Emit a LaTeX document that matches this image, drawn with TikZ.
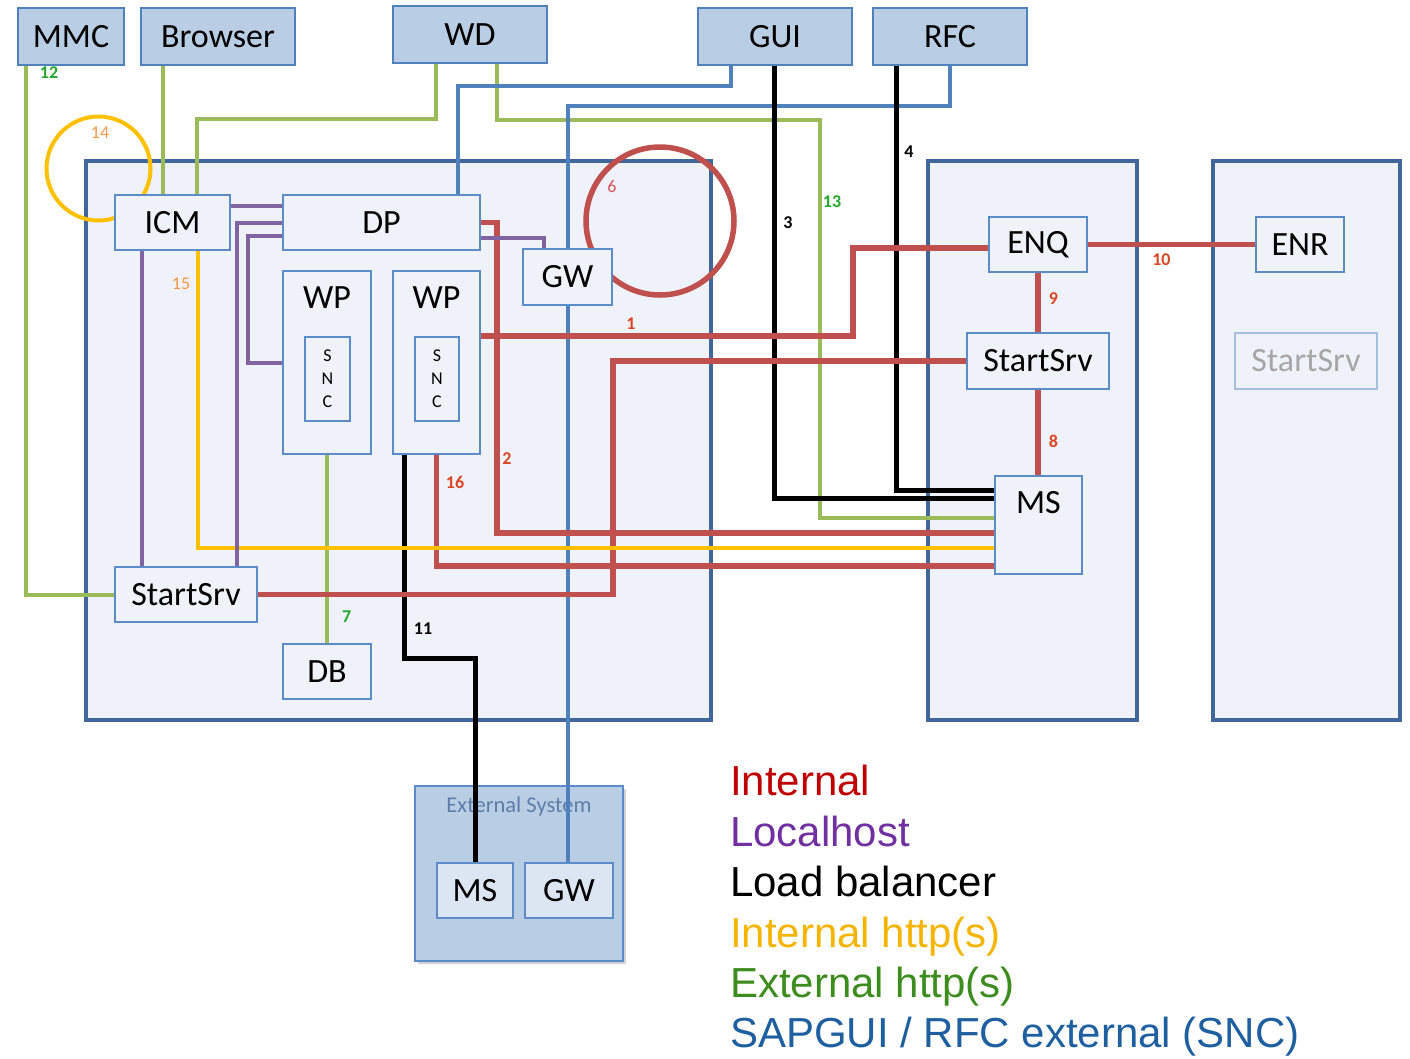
\documentclass[tikz,border=0pt]{standalone}
\usepackage{fontspec}
\setmainfont{Carlito}
\newfontfamily\legendfont{Liberation Sans}
\usepackage{tikz}
\usetikzlibrary{positioning,shadows}
\definecolor{frameblue}{HTML}{41679A}
\definecolor{boxline}{HTML}{5B8BC8}
\definecolor{panefill}{HTML}{EFF3F9}
\definecolor{topfill}{HTML}{B9CDE5}
\definecolor{extfill}{HTML}{DCE6F2}
\definecolor{wred}{HTML}{C0504D}
\definecolor{wgrn}{HTML}{9BBB59}
\definecolor{wprp}{HTML}{8064A2}
\definecolor{wblu}{HTML}{4F81BD}
\definecolor{wylw}{HTML}{FFC000}
\definecolor{tagred}{HTML}{DC4522}
\definecolor{tagpink}{HTML}{D45555}
\definecolor{taggrn}{HTML}{22A82A}
\definecolor{tagorg}{HTML}{F79646}
\definecolor{lgred}{HTML}{C00000}
\definecolor{lgprp}{HTML}{7030A0}
\definecolor{lgylw}{HTML}{F5B400}
\definecolor{lggrn}{HTML}{3C8C1E}
\definecolor{lgblu}{HTML}{1E5FA0}
\newcommand\procfont{\fontsize{34}{40}\selectfont}
\newcommand\tagfont{\fontsize{18}{20}\selectfont\bfseries}
\newcommand\sncfont{\fontsize{18}{23}\selectfont}
\pgfdeclarelayer{back}
\pgfdeclarelayer{wires}
\pgfsetlayers{back,wires,main}
\tikzset{
  pane/.style     = {draw=frameblue, line width=4pt, fill=panefill},
  client/.style   = {draw=wblu, line width=1.8pt, fill=topfill, font=\procfont,
                     inner sep=0pt, minimum width=154pt, minimum height=57pt},
  proc/.style     = {draw=boxline, line width=1.5pt, fill=panefill, font=\procfont,
                     inner sep=0pt, minimum height=55pt},
  extsys/.style   = {draw=boxline, line width=1.5pt, fill=topfill,
                     drop shadow={opacity=0.35,shadow xshift=3pt,shadow yshift=-3pt}},
  exttitle/.style = {anchor=center, yshift=-21pt, inner sep=0pt,
                     font=\fontsize{22.5}{26}\selectfont, text=frameblue!85},
  intitle/.style  = {anchor=center, yshift=-27pt, inner sep=0pt, font=\procfont},
  tag/.style      = {font=\tagfont, inner sep=0pt},
  lighttag/.style = {font=\fontsize{18}{20}\selectfont, inner sep=0pt},
  legend/.style   = {anchor=base west, inner sep=0pt,
                     font=\legendfont\fontsize{42}{50}\selectfont},
  rline/.style    = {draw=wred, line width=5.5pt},
  gline/.style    = {draw=wgrn, line width=4pt},
  pline/.style    = {draw=wprp, line width=4pt},
  bline/.style    = {draw=wblu, line width=4pt},
  kline/.style    = {draw=black, line width=5pt},
  yline/.style    = {draw=wylw, line width=4pt},
}
\begin{document}
\begin{tikzpicture}[x=1pt,y=-1pt]
\useasboundingbox (0,0) rectangle (1410,1058);

% hosts and the external system
\begin{pgfonlayer}{back}
\node[pane, minimum width=625pt, minimum height=559pt] (app) at (398.5,440.5) {};
\node[pane, minimum width=209pt, minimum height=559pt] (cs) at (1032.5,440.5) {};
\node[pane, minimum width=187pt, minimum height=559pt] (ers) at (1306.5,440.5) {};
\node[extsys, minimum width=208pt, minimum height=175pt,
      label={[exttitle]north:External System}] (ext) at (519,873.5) {};
\end{pgfonlayer}

% clients
\node[client, minimum width=106pt] (mmc) at (71,36.5) {MMC};
\node[client] (browser) at (218,36.5) {Browser};
\node[client] (wd) at (470,34.5) {WD};
\node[client] (gui) at (775,36.5) {GUI};
\node[client] (rfc) at (950,36.5) {RFC};

% application server
\node[proc, minimum width=115pt] (icm) at (172.5,222.5) {ICM};
\node[proc, minimum width=197pt] (dp) at (381.5,222.5) {DP};
\node[proc, minimum width=88pt, minimum height=183pt,
      label={[intitle]north:WP}] (wp1) at (327,362.5) {};
\node[proc, minimum width=87pt, minimum height=183pt,
      label={[intitle]north:WP}] (wp2) at (436.5,362.5) {};
\node[proc, font=\sncfont, align=center, minimum width=45pt,
      minimum height=84pt] (snc1) at (327.5,379) {S\\N\\C};
\node[proc, font=\sncfont, align=center, minimum width=44pt,
      minimum height=84pt] (snc2) at (437,379) {S\\N\\C};
\node[proc, minimum width=89pt, minimum height=56pt] (gw) at (567.5,277) {GW};
\node[proc, minimum width=142pt] (ssl) at (186,594.5) {StartSrv};
\node[proc, minimum width=88pt] (db) at (327,671.5) {DB};

% central services and replication
\node[proc, minimum width=98pt] (enq) at (1038,244.5) {ENQ};
\node[proc, minimum width=142pt, minimum height=56pt] (ssm) at (1038,361) {StartSrv};
\node[proc, minimum width=87pt, minimum height=98pt,
      label={[intitle]north:MS}] (ms) at (1038.5,525) {};
\node[proc, minimum width=88pt] (enr) at (1300,244.5) {ENR};
\node[proc, draw=boxline!55, text=black!35, minimum width=142pt,
      minimum height=56pt] (ssr) at (1306,361) {StartSrv};

\node[proc, fill=extfill, minimum width=76pt] (ems) at (475,890.5) {MS};
\node[proc, fill=extfill, minimum width=88pt] (egw) at (569,890.5) {GW};

\begin{pgfonlayer}{wires}
% external http(s)
\draw[gline] ([xshift=9pt]mmc.south west) |- (ssl.west);
\draw[gline] ([xshift=-9.5pt]icm.north) -- ([xshift=-9.5pt]icm.north |- browser.south);
\draw[gline] ([xshift=-34pt]wd.south) -- ++(0,55) -| ([xshift=24.5pt]icm.north);
\draw[gline] ([xshift=27pt]wd.south) -- ++(0,56) -- ++(323,0) |- ([yshift=7pt]ms.west);
\draw[gline] (wp1.south) -- node[tag, text=taggrn, right=13pt, pos=.86]{7} (db.north);
% sapgui / rfc
\draw[bline] ([xshift=-44pt]gui.south) -- ++(0,20) -| ([xshift=76.5pt]dp.north);
\draw[bline] (rfc.south) -- ++(0,40) -| (gw.north);
\draw[bline] (gw.south) -- (gw.south |- egw.north);
% load balancer
\draw[kline] ([xshift=-1pt]gui.south) |- ([yshift=27pt]ms.west);
\draw[kline] ([xshift=-54pt]rfc.south) |- ([yshift=35pt]ms.west);
\draw[kline] ([xshift=-32.5pt]wp2.south) -- ++(0,204) -| (ems.north);
% internal
\draw[rline] ([yshift=26.5pt]wp2.east) -- ++(372,0) |- ([yshift=-3.5pt]enq.west);
\draw[rline] (dp.east) -- ++(16,0) |- ([yshift=-8pt]ms.west);
\draw[rline] (wp2.south) |- ([yshift=-41pt]ms.west);
\draw[rline] (ssl.east) -- ++(355,0) |- (ssm.west);
\draw[rline] (enq.south) -- node[tag, text=tagred, right=8pt, pos=.44]{9} (ssm.north);
\draw[rline] (ssm.south) -- node[tag, text=tagred, right=8pt, pos=.6]{8} (ssm.south |- ms.north);
\draw[rline] (enq.east) -- node[tag, text=tagred, below=6pt, pos=.44]{10} (enr.west);
\draw[rline] (660,221) circle[radius=74];
% internal http(s)
\draw[yline] (98.5,168.5) circle[radius=52];
\draw[yline] ([xshift=25.5pt]icm.south) |- ([yshift=-23pt]ms.west);
% localhost
\draw[pline] ([xshift=-30.5pt]icm.south) -- ([xshift=-30.5pt]icm.south |- ssl.north);
\draw[pline] ([yshift=16.5pt]icm.east) -- ([yshift=16.5pt]dp.west);
\draw[pline] (dp.west) -| ([xshift=51pt]ssl.north);
\draw[pline] ([yshift=-13.5pt]dp.west) -- ++(-34,0) |- (wp1.west);
\draw[pline] ([yshift=-15.5pt]dp.east) -| ([xshift=-23.5pt]gw.north);
\end{pgfonlayer}

% connection numbers
\node[tag, text=taggrn] (n12) at (49,73) {12};
\node[lighttag, text=tagorg] (n14) at (100,133) {14};
\node[lighttag, text=tagorg] (n15) at (181,284) {15};
\node[lighttag, text=tagpink] (n6) at (612,186) {6};
\node[tag] (n3) at (788,223) {3};
\node[tag] (n4) at (909,152) {4};
\node[tag, text=taggrn] (n13) at (832,202) {13};
\node[tag, text=tagred] (n1) at (631,324) {1};
\node[tag, text=tagred] (n2) at (507,459) {2};
\node[tag, text=tagred] (n16) at (455,482) {16};
\node[tag] (n11) at (423,629) {11};

% legend
\node[legend, text=lgred] (lint) at (730,795) {Internal};
\node[legend, text=lgprp] (lloc) at (730,846) {Localhost};
\node[legend] (llb) at (730,896) {Load balancer};
\node[legend, text=lgylw] (lihttp) at (730,947) {Internal http(s)};
\node[legend, text=lggrn] (lehttp) at (730,997) {External http(s)};
\node[legend, text=lgblu] (lsnc) at (730,1047) {SAPGUI / RFC external (SNC)};
\end{tikzpicture}
\end{document}
